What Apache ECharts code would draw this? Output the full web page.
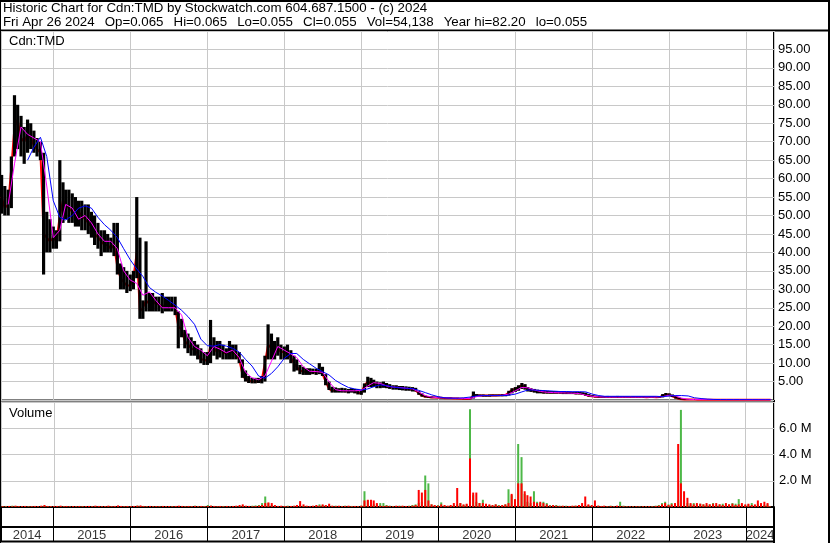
<!DOCTYPE html>
<html>
<head>
<meta charset="utf-8">
<script src="https://cdn.jsdelivr.net/npm/echarts@6/dist/echarts.min.js"></script>
<style>
html, body { margin: 0; padding: 0; background: #fff; }
#chart { width: 830px; height: 543px; }
</style>
</head>
<body>
<div id="chart"></div>
<script>
// axis range
const xMin = '2014-04-28'
const xMax = '2024-05-12'
const firstYear = 2014
const lastYear = 2024
const lastDay = '2024-04-26'

// semi-monthly price ranges (1st and 16th of each month, May 2014 .. Apr 2024, then last day)
const high = [
  61, 58, 57, 66, 82.6, 80, 77, 74, 76, 75,
  73, 71, 70, 67, 51, 49, 47, 46, 65, 59,
  57, 57, 56, 55, 54, 54, 53, 53, 51, 50,
  48, 46, 46, 45, 44, 48, 48, 37, 36, 35,
  34, 35, 55, 44, 27, 43, 29, 29, 28, 28,
  29, 28, 28, 28, 28, 24, 22, 19, 18, 17,
  16, 15, 14, 13, 13, 21.7, 17, 16, 16, 15,
  14, 16, 15, 15, 13, 11, 8, 6.5, 6, 6,
  6, 6.5, 12, 20.5, 18, 16, 17, 15, 14.5, 15,
  13.5, 12, 11, 9.5, 9, 8.6, 8.6, 8.5, 8.5, 10,
  9, 7, 5, 3.6, 3.4, 3.2, 3.3, 3.2, 3, 3.2,
  3, 3, 2.8, 4.5, 6.3, 6, 5.5, 5, 4.8, 5,
  4.6, 4.3, 4, 4, 3.8, 3.8, 3.7, 3.6, 3.5, 3.3,
  2.4, 1.8, 1.2, 1, 1, 0.9, 0.9, 0.8, 0.8, 0.7,
  0.7, 0.6, 0.6, 0.55, 0.5, 0.5, 0.6, 2.3, 1.6, 1.5,
  1.5, 1.4, 1.5, 1.5, 1.5, 1.5, 1.6, 1.6, 2.5, 3.2,
  3.5, 4, 4.6, 4.3, 3.5, 3.2, 3, 2.8, 2.7, 2.6,
  2.5, 2.4, 2.4, 2.4, 2.3, 2.3, 2.3, 2.2, 2.2, 2.2,
  2.2, 2.1, 2, 1.6, 1.3, 1.2, 1.1, 1.0, 1.0, 1.1,
  1.0, 1.0, 1.1, 1.0, 1.0, 1.0, 0.9, 1.0, 1.0, 1.0,
  1.0, 0.9, 1.0, 1.0, 0.9, 1.0, 1.6, 1.9, 1.8, 1.5,
  1.1, 0.7, 0.4, 0.2, 0.2, 0.2, 0.2, 0.2, 0.18, 0.18,
  0.18, 0.18, 0.15, 0.15, 0.15, 0.15, 0.14, 0.14, 0.13, 0.13,
  0.12, 0.12, 0.12, 0.11, 0.1, 0.1, 0.1, 0.09, 0.08, 0.08,
  0.065
]
const low = [
  50.5, 50, 50, 52, 66, 68, 66, 64, 67, 68,
  67, 66, 65, 34, 40, 40, 41, 41, 43, 48,
  49, 48, 48, 47, 47, 46, 46, 45, 44, 42,
  41, 39, 40, 40, 40, 39, 34, 30, 30, 29,
  29.5, 30, 33, 22, 22, 24, 24, 24, 24, 24,
  23.5, 24, 24, 24, 23, 14, 17, 14, 12.7, 12,
  12, 11, 10, 9.5, 9.5, 10, 12, 11, 11.5, 11,
  11, 11, 11, 11, 10, 6, 5, 4.6, 4.5, 4.5,
  4.6, 4.5, 5, 11, 11, 11, 12, 11, 11, 11,
  10, 7.7, 8, 7, 6.8, 6.8, 6.8, 7, 6.8, 7,
  6.5, 4, 2.7, 2, 2, 2, 2, 2, 1.8, 2,
  1.8, 1.5, 1.4, 2, 3.5, 3.5, 3.5, 3.2, 3.2, 3.3,
  3.2, 3, 2.8, 2.8, 2.7, 2.6, 2.5, 2.5, 2.3, 2.3,
  1.4, 0.9, 0.7, 0.6, 0.5, 0.5, 0.5, 0.4, 0.4, 0.35,
  0.3, 0.3, 0.25, 0.25, 0.2, 0.2, 0.2, 0.4, 1, 1,
  0.9, 0.9, 0.9, 1, 1, 1, 1, 1, 1.2, 1.8,
  2.2, 2.5, 3, 2.8, 2.3, 2.2, 2, 1.8, 1.8, 1.7,
  1.7, 1.7, 1.7, 1.7, 1.7, 1.6, 1.6, 1.6, 1.6, 1.5,
  1.5, 1.4, 1.1, 0.9, 0.8, 0.7, 0.6, 0.6, 0.6, 0.6,
  0.6, 0.6, 0.6, 0.6, 0.6, 0.6, 0.6, 0.6, 0.6, 0.6,
  0.6, 0.6, 0.6, 0.6, 0.6, 0.6, 0.7, 1.0, 1.0, 0.8,
  0.4, 0.2, 0.1, 0.05, 0.05, 0.05, 0.05, 0.05, 0.05, 0.05,
  0.05, 0.05, 0.05, 0.05, 0.05, 0.05, 0.05, 0.05, 0.05, 0.05,
  0.05, 0.05, 0.05, 0.05, 0.05, 0.05, 0.05, 0.05, 0.05, 0.05,
  0.055
]
const close = [
  55, 52, 53, 63, 74, 76, 71, 70, 72, 71,
  69, 68, 67, 45, 44, 43, 44, 43, 50, 54,
  53, 52, 51, 50, 51, 50, 49, 48, 47, 45,
  44, 43, 42, 42, 41, 42, 36, 33, 32, 31,
  31, 33, 40, 24, 25, 27, 26, 27, 26, 26,
  25, 26, 25, 26, 25, 20, 19, 16, 15, 14,
  13.5, 12.5, 11, 11, 10.5, 15, 14, 13, 14, 13,
  12.5, 13, 13, 12.5, 11, 7, 5.5, 5.2, 5, 5,
  5, 5.5, 10, 15, 14, 13, 14, 13, 13, 12.5,
  11.5, 10, 9, 8, 7.7, 7.5, 7.5, 7.5, 7.5, 8,
  7, 5, 3, 2.5, 2.5, 2.6, 2.5, 2.4, 2.4, 2.5,
  2.3, 2, 1.8, 4, 5, 4.5, 4.5, 4, 4, 3.8,
  3.8, 3.6, 3.4, 3.3, 3.2, 3.2, 3, 3, 2.8, 2.6,
  1.8, 1.2, 0.9, 0.8, 0.7, 0.7, 0.6, 0.6, 0.5, 0.5,
  0.45, 0.4, 0.4, 0.35, 0.35, 0.3, 0.35, 1.3, 1.3, 1.2,
  1.2, 1.2, 1.2, 1.3, 1.2, 1.3, 1.3, 1.4, 2, 2.8,
  3, 3.5, 4, 3.5, 3, 2.6, 2.5, 2.3, 2.2, 2.1,
  2.1, 2, 2, 2, 2, 1.9, 1.9, 1.9, 1.9, 1.8,
  1.8, 1.7, 1.4, 1.1, 1, 0.9, 0.8, 0.8, 0.8, 0.8,
  0.8, 0.8, 0.8, 0.8, 0.8, 0.8, 0.8, 0.8, 0.8, 0.8,
  0.8, 0.75, 0.8, 0.8, 0.75, 0.8, 1.2, 1.5, 1.4, 1.0,
  0.6, 0.3, 0.2, 0.12, 0.12, 0.11, 0.11, 0.1, 0.1, 0.1,
  0.1, 0.1, 0.09, 0.09, 0.09, 0.09, 0.08, 0.08, 0.08, 0.08,
  0.08, 0.07, 0.07, 0.07, 0.07, 0.07, 0.06, 0.06, 0.06, 0.06,
  0.055
]

// volume in millions, same semi-monthly slots (up days / down days)
const volUp = [
  0.05, 0.08, 0.06, 0.1, 0.08, 0.06, 0.05, 0.07, 0.06, 0.05,
  0.06, 0.05, 0.08, 0.1, 0.07, 0.06, 0.05, 0.06, 0.08, 0.06,
  0.05, 0.06, 0.05, 0.06, 0.05, 0.06, 0.05, 0.05, 0.06, 0.05,
  0.06, 0.05, 0.06, 0.07, 0.05, 0.06, 0.08, 0.06, 0.05, 0.06,
  0.05, 0.07, 0.1, 0.08, 0.06, 0.07, 0.05, 0.06, 0.05, 0.06,
  0.05, 0.06, 0.05, 0.06, 0.05, 0.06, 0.05, 0.06, 0.05, 0.06,
  0.1, 0.08, 0.06, 0.08, 0.15, 0.1, 0.06, 0.05, 0.06, 0.08,
  0.06, 0.07, 0.05, 0.06, 0.08, 0.1, 0.06, 0.08, 0.1, 0.12,
  0.15, 0.3, 0.8, 0.3, 0.15, 0.1, 0.08, 0.06, 0.08, 0.1,
  0.06, 0.08, 0.1, 0.15, 0.08, 0.06, 0.05, 0.06, 0.1, 0.2,
  0.15, 0.1, 0.12, 0.08, 0.1, 0.06, 0.08, 0.1, 0.06, 0.08,
  0.06, 0.08, 0.1, 1.2, 0.5, 0.3, 0.2, 0.2, 0.3, 0.3,
  0.15, 0.1, 0.08, 0.06, 0.1, 0.08, 0.06, 0.1, 0.15, 0.2,
  0.3, 0.4, 2.4, 1.8, 0.2, 0.1, 0.15, 0.35, 0.1, 0.08,
  0.1, 0.15, 0.2, 0.3, 0.15, 0.2, 7.45, 0.9, 0.4, 0.3,
  0.55, 0.2, 0.15, 0.1, 0.2, 0.15, 0.1, 0.2, 1.35, 0.9,
  0.5, 4.8, 3.8, 1.0, 0.4, 0.3, 1.2, 0.4, 0.3, 0.4,
  0.3, 0.15, 0.1, 0.15, 0.1, 0.08, 0.1, 0.06, 0.08, 0.1,
  0.1, 0.08, 0.1, 0.15, 0.1, 0.08, 0.1, 0.06, 0.08, 0.06,
  0.1, 0.06, 0.08, 0.4, 0.1, 0.06, 0.05, 0.06, 0.05, 0.06,
  0.05, 0.06, 0.05, 0.06, 0.1, 0.15, 0.3, 0.4, 0.2, 0.3,
  0.2, 0.5, 7.4, 0.5, 0.3, 0.2, 0.3, 0.2, 0.25, 0.2,
  0.15, 0.2, 0.3, 0.15, 0.2, 0.25, 0.15, 0.2, 0.3, 0.25,
  0.6, 0.2, 0.15, 0.2, 0.3, 0.15, 0.2, 0.25, 0.15, 0.2,
  0.05
]
const volDown = [
  0.06, 0.05, 0.08, 0.06, 0.1, 0.07, 0.06, 0.08, 0.05, 0.06,
  0.08, 0.06, 0.1, 0.15, 0.08, 0.06, 0.07, 0.08, 0.1, 0.06,
  0.08, 0.06, 0.07, 0.06, 0.08, 0.06, 0.07, 0.08, 0.06, 0.1,
  0.08, 0.06, 0.07, 0.1, 0.06, 0.08, 0.12, 0.08, 0.06, 0.08,
  0.06, 0.08, 0.1, 0.12, 0.08, 0.06, 0.08, 0.06, 0.07, 0.06,
  0.08, 0.06, 0.07, 0.06, 0.08, 0.1, 0.08, 0.06, 0.08, 0.06,
  0.08, 0.06, 0.08, 0.06, 0.08, 0.1, 0.08, 0.06, 0.08, 0.06,
  0.08, 0.06, 0.08, 0.1, 0.15, 0.2, 0.1, 0.08, 0.06, 0.08,
  0.1, 0.15, 0.3, 0.35, 0.3, 0.15, 0.08, 0.1, 0.08, 0.06,
  0.08, 0.1, 0.15, 0.45, 0.2, 0.1, 0.08, 0.1, 0.15, 0.1,
  0.2, 0.15, 0.25, 0.1, 0.08, 0.1, 0.06, 0.08, 0.1, 0.06,
  0.08, 0.06, 0.1, 0.5, 0.55, 0.55, 0.5, 0.3, 0.1, 0.08,
  0.1, 0.08, 0.06, 0.1, 0.08, 0.1, 0.08, 0.06, 0.1, 0.15,
  1.3, 1.1, 1.3, 0.5, 0.2, 0.15, 0.1, 0.2, 0.15, 0.1,
  0.15, 0.3, 1.45, 0.3, 0.2, 0.25, 3.7, 1.1, 1.1, 0.3,
  0.3, 0.25, 0.2, 0.15, 0.2, 0.1, 0.15, 0.2, 0.3, 1.0,
  0.6, 1.8, 1.8, 1.2, 0.9, 0.8, 0.4, 0.3, 0.4, 0.3,
  0.2, 0.1, 0.15, 0.1, 0.08, 0.1, 0.06, 0.08, 0.1, 0.1,
  0.15, 0.3, 0.8, 0.2, 0.15, 0.5, 0.1, 0.08, 0.1, 0.06,
  0.08, 0.06, 0.1, 0.08, 0.06, 0.05, 0.06, 0.05, 0.06, 0.05,
  0.06, 0.05, 0.06, 0.05, 0.08, 0.1, 0.2, 0.3, 0.15, 0.2,
  0.3, 4.8, 1.8, 1.2, 0.7, 0.3, 0.2, 0.3, 0.25, 0.2,
  0.3, 0.2, 0.25, 0.3, 0.2, 0.15, 0.3, 0.2, 0.25, 0.15,
  0.2, 0.3, 0.2, 0.25, 0.15, 0.2, 0.5, 0.3, 0.4, 0.3,
  0.054
]

// moving averages, monthly (1st of each month May 2014 .. Apr 2024, then last day)
const maShort = [
  null, 53, 64, 74, 72, 71, 70, 58, 44, 46,
  53, 52, 49, 50, 48, 45, 43, 43, 41, 35,
  32.5, 31.6, 28.4, 29.3, 27, 25, 25, 25, 23, 17,
  14.5, 13.5, 12, 14.5, 13.8, 12.8, 13.5, 11.5, 7.5, 6,
  5.5, 6.5, 10.5, 14.5, 13.5, 12.5, 11.5, 9, 7.8, 7.7,
  7.5, 5, 2.8, 2.5, 2.5, 2.5, 2.6, 3.8, 4.7, 4.5,
  3.8, 3.5, 3.4, 3.2, 3.0, 2.2, 1.2, 0.8, 0.6, 0.6,
  0.5, 0.45, 0.4, 0.4, 0.9, 1.2, 1.2, 1.2, 1.3, 1.6,
  2.5, 3.4, 3.3, 2.7, 2.3, 2.1, 2.0, 1.95, 1.9, 1.85,
  1.75, 1.3, 1.0, 0.85, 0.8, 0.8, 0.8, 0.8, 0.8, 0.8,
  0.8, 0.8, 0.8, 0.9, 1.3, 1.1, 0.5, 0.2, 0.12, 0.11,
  0.1, 0.1, 0.09, 0.09, 0.08, 0.08, 0.07, 0.07, 0.07, 0.06,
  0.06
]
const maLong = [
  null, null, null, null, 65, 68.5, 71.2, 66, 54, 49.5,
  48.8, 50, 52, 52.6, 52, 49.5, 47.5, 46, 44, 41,
  38, 35.5, 33.5, 30.5, 29.2, 28.2, 27, 25.7, 24.3, 22.6,
  20.5, 16.5, 14.7, 14.6, 15, 14.6, 14, 13, 11, 9.2,
  6.5, 5.9, 7.2, 9, 11.3, 12.6, 12.6, 11, 9.8, 8.6,
  7.7, 6.8, 5.3, 4.3, 3.4, 3.0, 2.7, 3.0, 3.6, 4.1,
  3.9, 3.5, 3.3, 3.2, 3.1, 2.6, 2.0, 1.4, 0.9, 0.6,
  0.5, 0.5, 0.6, 0.8, 1.1, 1.2, 1.2, 1.2, 1.2, 1.3,
  1.6, 2.2, 2.7, 2.7, 2.6, 2.5, 2.4, 2.3, 2.3, 2.25,
  2.25, 2.2, 1.6, 1.2, 1.0, 1.0, 1.0, 1.0, 1.0, 1.0,
  1.0, 1.0, 1.0, 0.9, 1.1, 1.2, 1.2, 1.1, 0.6, 0.4,
  0.25, 0.15, 0.12, 0.1, 0.1, 0.1, 0.09, 0.09, 0.08, 0.08,
  0.08
]

const FONT = "'Liberation Sans', Arial, sans-serif"
const GRID_LINE = '#c8c8c8'
const GAP = '  \u2009'

function pad(n) {
  return String(n).padStart(2, '0')
}

function ts(s) {
  return +echarts.time.parse(s)
}

// slot dates: 1st and 16th of each month from May 2014, plus the last trading day
function buildDates() {
  const semi = []
  const monthly = []
  for (let m = 0; m < 120; m++) {
    const y = firstYear + Math.floor((4 + m) / 12)
    const mo = pad((4 + m) % 12 + 1)
    semi.push(ts(`${y}-${mo}-01`), ts(`${y}-${mo}-16`))
    monthly.push(ts(`${y}-${mo}-01`))
  }
  semi.push(ts(lastDay))
  monthly.push(ts(lastDay))
  return { semi, monthly }
}

const { semi, monthly } = buildDates()
const tMin = ts(xMin)
const tMax = ts(xMax)

// year labels sit in the middle of the visible part of each year
const yearLabels = []
for (let y = firstYear; y <= lastYear; y++) {
  const a = Math.max(tMin, ts(`${y}-01-01`))
  const b = Math.min(tMax, ts(`${y + 1}-01-01`))
  yearLabels.push({ value: [(a + b) / 2, 0], name: String(y) })
}

function renderRange(params, api) {
  const top = api.coord([api.value(0), api.value(2)])
  const bottom = api.coord([api.value(0), api.value(1)])
  return {
    type: 'rect',
    shape: { x: top[0] - 1.6, y: top[1], width: 3.2, height: Math.max(bottom[1] - top[1], 0.8) },
    style: { fill: '#000' }
  }
}

const textStyle = { fontFamily: FONT, fontSize: 13, fontWeight: 'normal', color: '#000' }

function timeAxis(gridIndex, splitColor) {
  return {
    type: 'time',
    gridIndex,
    min: tMin,
    max: tMax,
    minInterval: 365 * 86400000,
    maxInterval: 366 * 86400000,
    axisLine: { show: false },
    axisTick: { show: false },
    axisLabel: { show: false },
    splitLine: { show: true, lineStyle: { color: splitColor, width: 1 } }
  }
}

const headerLines = [
  'Historic Chart for Cdn:TMD by Stockwatch.com 604.687.1500 - (c) 2024',
  ['Fri Apr 26 2024', 'Op=0.065', 'Hi=0.065', 'Lo=0.055', 'Cl=0.055', 'Vol=54,138', 'Year hi=82.20', 'lo=0.055'].join(GAP)
]

const option = {
  animation: false,
  backgroundColor: '#fff',
  title: [
    {
      text: headerLines.join('\n'),
      left: 3, top: 1, padding: 0,
      textStyle: { ...textStyle, fontSize: 13.3, lineHeight: 14 }
    },
    { text: 'Cdn:TMD', left: 9, top: 35, padding: 0, textStyle },
    { text: 'Volume', left: 9, top: 407, padding: 0, textStyle }
  ],
  grid: [
    { left: 1, right: 56, top: 31, height: 369, show: true, borderColor: '#000', borderWidth: 1 },
    { left: 1, right: 56, top: 402, height: 105, show: true, borderColor: '#000', borderWidth: 1 },
    { left: 1, right: 56, top: 508, height: 34, show: false }
  ],
  xAxis: [
    timeAxis(0, GRID_LINE),
    { ...timeAxis(1, GRID_LINE), axisLine: { show: true, lineStyle: { color: '#000', width: 2 } } },
    timeAxis(2, '#000')
  ],
  yAxis: [
    {
      type: 'value',
      gridIndex: 0,
      position: 'right',
      min: 0,
      max: 100,
      interval: 5,
      axisLine: { show: false },
      axisTick: { show: false },
      axisLabel: {
        color: '#000', fontFamily: FONT, fontSize: 13, margin: 4,
        formatter: (v) => (v <= 0 || v >= 100 ? '' : v.toFixed(2))
      },
      splitLine: { lineStyle: { color: GRID_LINE, width: 1 } }
    },
    {
      type: 'value',
      gridIndex: 1,
      position: 'right',
      min: 0,
      max: 8,
      interval: 2,
      axisLine: { show: false },
      axisTick: { show: false },
      axisLabel: {
        color: '#000', fontFamily: FONT, fontSize: 13, margin: 5,
        formatter: (v) => (v <= 0 || v >= 8 ? '' : v.toFixed(1) + ' M')
      },
      splitLine: { lineStyle: { color: GRID_LINE, width: 1 } }
    },
    {
      type: 'value',
      gridIndex: 2,
      min: 0,
      max: 1,
      show: false
    }
  ],
  graphic: [
    { type: 'line', shape: { x1: 0, y1: 1, x2: 830, y2: 1 }, style: { stroke: '#000', lineWidth: 2 } },
    { type: 'line', shape: { x1: 0.5, y1: 0, x2: 0.5, y2: 543 }, style: { stroke: '#000', lineWidth: 1 } },
    { type: 'line', shape: { x1: 829, y1: 0, x2: 829, y2: 543 }, style: { stroke: '#000', lineWidth: 2 } },
    { type: 'line', shape: { x1: 0, y1: 30.5, x2: 830, y2: 30.5 }, style: { stroke: '#000', lineWidth: 2 } },
    { type: 'line', shape: { x1: 774, y1: 30, x2: 774, y2: 543 }, style: { stroke: '#000', lineWidth: 2 } },
    { type: 'line', shape: { x1: 0, y1: 527, x2: 774, y2: 527 }, style: { stroke: '#000', lineWidth: 2 } },
    { type: 'line', shape: { x1: 0, y1: 541.5, x2: 774, y2: 541.5 }, style: { stroke: '#000', lineWidth: 2 } }
  ],
  series: [
    {
      name: 'Close',
      type: 'line',
      xAxisIndex: 0,
      yAxisIndex: 0,
      data: semi.map((t, i) => [t, close[i]]),
      showSymbol: false,
      lineStyle: { color: '#ff0000', width: 2 },
      z: 2
    },
    {
      name: 'Range',
      type: 'custom',
      xAxisIndex: 0,
      yAxisIndex: 0,
      renderItem: renderRange,
      encode: { x: 0, y: [1, 2] },
      data: semi.map((t, i) => [t, low[i], high[i]]),
      clip: true,
      z: 3
    },
    {
      name: 'MA short',
      type: 'line',
      xAxisIndex: 0,
      yAxisIndex: 0,
      data: monthly.map((t, i) => [t, maShort[i]]),
      showSymbol: false,
      lineStyle: { color: '#ff00ff', width: 1 },
      z: 4
    },
    {
      name: 'MA long',
      type: 'line',
      xAxisIndex: 0,
      yAxisIndex: 0,
      data: monthly.map((t, i) => [t, maLong[i]]),
      showSymbol: false,
      lineStyle: { color: '#0000ff', width: 1 },
      z: 5
    },
    {
      name: 'Vol up',
      type: 'bar',
      xAxisIndex: 1,
      yAxisIndex: 1,
      data: semi.map((t, i) => [t, volUp[i]]),
      barWidth: 2,
      itemStyle: { color: '#4db848' }
    },
    {
      name: 'Vol down',
      type: 'bar',
      xAxisIndex: 1,
      yAxisIndex: 1,
      data: semi.map((t, i) => [t, volDown[i]]),
      barWidth: 2,
      barGap: '-100%',
      itemStyle: { color: '#ff0000' }
    },
    {
      name: 'Years',
      type: 'scatter',
      xAxisIndex: 2,
      yAxisIndex: 2,
      data: yearLabels,
      symbolSize: 0,
      silent: true,
      label: {
        show: true,
        position: 'inside',
        offset: [0, -7],
        formatter: '{b}',
        color: '#000',
        fontFamily: FONT,
        fontSize: 13
      }
    }
  ]
}

const chart = echarts.init(document.getElementById('chart'), null, { renderer: 'canvas' })
chart.setOption(option)
</script>
</body>
</html>
